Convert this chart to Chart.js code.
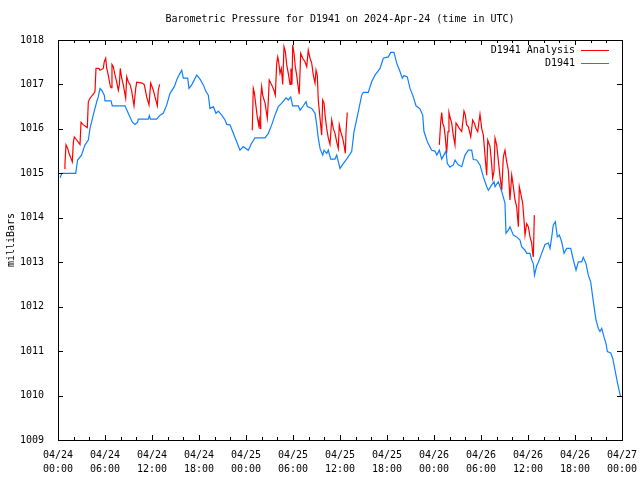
<!DOCTYPE html>
<html lang="en">
<head>
    <meta charset="UTF-8">
    <title>Barometric Pressure for D1941</title>
    <style>
        html, body { margin: 0; padding: 0; background: #fff; }
    </style>
</head>
<body>
    <div style="width: 640px; height: 480px;">
        <canvas id="myChart"></canvas>
    </div>

    <script src="https://cdn.jsdelivr.net/npm/chart.js"></script>
    <script>
        // hours since 2024-04-24 00:00 UTC
        const tickLabels = [
            ["04/24", "00:00"], ["04/24", "06:00"], ["04/24", "12:00"], ["04/24", "18:00"],
            ["04/25", "00:00"], ["04/25", "06:00"], ["04/25", "12:00"], ["04/25", "18:00"],
            ["04/26", "00:00"], ["04/26", "06:00"], ["04/26", "12:00"], ["04/26", "18:00"],
            ["04/27", "00:00"]
        ];

        // D1941 (observed)
        const obsHours = [
            0.26, 0.5, 2.26, 2.5, 3.0, 3.45, 3.87, 4.09, 4.5, 4.94, 5.14, 5.36, 5.58, 5.91, 6.0, 6.77, 6.93, 8.55, 8.97, 9.49,
            9.83, 10.17, 10.25, 11.53, 11.66, 11.8, 12.6, 13.02, 13.44, 13.88, 14.3, 14.85, 15.15, 15.45, 15.79, 16.0, 16.56, 16.72, 17.07, 17.71,
            18.13, 18.55, 18.89, 19.19, 19.4, 19.83, 20.17, 20.46, 20.9, 21.32, 21.54, 21.96, 22.38, 22.81, 23.23, 23.66, 24.29, 24.73, 25.15, 26.43,
            26.85, 27.28, 27.7, 28.12, 28.56, 29.11, 29.4, 29.71, 29.96, 30.68, 30.9, 31.32, 31.66, 31.83, 32.39, 32.81, 33.03, 33.23, 33.45, 33.79,
            33.96, 34.3, 34.51, 34.81, 35.36, 35.58, 36.0, 36.42, 36.85, 37.49, 37.79, 38.34, 38.77, 38.98, 39.61, 40.04, 40.47, 41.11, 41.53, 42.17,
            42.47, 42.89, 43.24, 43.66, 43.95, 44.17, 44.59, 44.94, 45.36, 45.7, 46.21, 46.56, 46.72, 47.15, 47.7, 48.13, 48.35, 48.68, 48.98, 49.53,
            49.7, 50.04, 50.47, 50.68, 51.1, 51.54, 51.96, 52.38, 52.81, 53.02, 53.45, 53.87, 54.3, 54.73, 54.94, 55.37, 55.66, 55.79, 56.21, 56.65,
            57.06, 57.19, 57.49, 57.7, 58.13, 58.55, 58.98, 59.19, 59.62, 59.83, 60.26, 60.47, 60.68, 60.83, 61.11, 61.32, 61.66, 62.17, 62.6, 62.81,
            63.03, 63.23, 63.49, 63.74, 64.0, 64.3, 64.6, 64.94, 65.45, 65.79, 66.13, 66.43, 66.86, 67.06, 67.4, 67.7, 68.0, 68.26, 68.43, 68.68,
            68.98, 69.19, 69.41, 69.7, 69.96, 70.13, 70.56, 70.81, 71.11, 71.4, 71.62, 71.83
        ];
        const obsValues = [
            1014.9, 1015.0, 1015.0, 1015.3, 1015.41, 1015.64, 1015.75, 1016.01, 1016.31, 1016.61, 1016.72, 1016.91, 1016.87, 1016.76, 1016.63, 1016.63, 1016.52, 1016.52, 1016.35, 1016.15,
            1016.1, 1016.15, 1016.22, 1016.22, 1016.3, 1016.22, 1016.22, 1016.31, 1016.35, 1016.54, 1016.8, 1016.95, 1017.1, 1017.21, 1017.32, 1017.14, 1017.14, 1016.91, 1016.99, 1017.21,
            1017.12, 1016.99, 1016.84, 1016.76, 1016.46, 1016.5, 1016.35, 1016.4, 1016.31, 1016.2, 1016.1, 1016.09, 1015.9, 1015.71, 1015.52, 1015.6, 1015.52, 1015.68, 1015.8, 1015.8,
            1015.9, 1016.09, 1016.31, 1016.5, 1016.58, 1016.7, 1016.65, 1016.72, 1016.52, 1016.52, 1016.42, 1016.52, 1016.61, 1016.5, 1016.46, 1016.35, 1016.09, 1015.79, 1015.56, 1015.41,
            1015.52, 1015.45, 1015.52, 1015.32, 1015.32, 1015.41, 1015.11, 1015.22, 1015.32, 1015.49, 1015.94, 1016.39, 1016.76, 1016.82, 1016.82, 1017.06, 1017.21, 1017.36, 1017.59, 1017.62,
            1017.72, 1017.72, 1017.48, 1017.29, 1017.14, 1017.2, 1017.17, 1016.91, 1016.72, 1016.52, 1016.45, 1016.31, 1015.94, 1015.71, 1015.52, 1015.5, 1015.41, 1015.52, 1015.32, 1015.5,
            1015.22, 1015.14, 1015.19, 1015.3, 1015.19, 1015.15, 1015.41, 1015.52, 1015.52, 1015.31, 1015.3, 1015.19, 1014.92, 1014.7, 1014.62, 1014.74, 1014.81, 1014.7, 1014.81, 1014.59,
            1014.33, 1013.65, 1013.72, 1013.8, 1013.61, 1013.57, 1013.5, 1013.35, 1013.27, 1013.2, 1013.2, 1013.05, 1012.97, 1012.71, 1012.92, 1013.0, 1013.16, 1013.4, 1013.43, 1013.31,
            1013.57, 1013.84, 1013.91, 1013.57, 1013.61, 1013.46, 1013.2, 1013.31, 1013.31, 1013.05, 1012.82, 1013.01, 1013.01, 1013.11, 1012.97, 1012.71, 1012.56, 1012.22, 1012.0, 1011.7,
            1011.51, 1011.44, 1011.51, 1011.32, 1011.17, 1010.99, 1010.96, 1010.84, 1010.57, 1010.31, 1010.12, 1009.97
        ];

        // D1941 Analysis (null = gap between analysis runs)
        const anaHours = [
            0.8, 0.89, 1.02, 1.24, 1.4, 1.66, 1.83, 1.95, 2.08, 2.39, 2.81, 2.94, 3.23, 3.74, 3.87, 4.09, 4.51, 4.72, 4.85, 5.23,
            5.36, 5.78, 5.91, 6.09, 6.22, 6.42, 6.64, 6.77, 6.89, 7.06, 7.28, 7.49, 7.7, 7.83, 7.95, 8.13, 8.34, 8.64, 8.77, 8.97,
            9.19, 9.41, 9.7, 9.92, 10.05, 10.76, 11.02, 11.32, 11.62, 11.83, 12.17, 12.38, 12.68, 12.8, 12.98,
            18.0,
            24.8, 24.93, 25.06, 25.28, 25.44, 25.62, 25.7, 25.79, 25.88, 26.0, 26.13, 26.43, 26.72, 26.85, 26.97, 27.28, 27.57, 27.74, 27.92, 28.05,
            28.17, 28.34, 28.51, 28.69, 28.85, 29.02, 29.2, 29.4, 29.62, 29.74, 29.87, 29.96, 30.13, 30.29, 30.47, 30.68, 30.8, 30.98, 31.24, 31.53,
            31.75, 31.95, 32.17, 32.39, 32.59, 32.81, 32.94, 33.1, 33.23, 33.45, 33.66, 33.79, 33.96, 34.12, 34.3, 34.51, 34.72, 34.94, 35.14, 35.36,
            35.58, 35.78, 35.91, 36.09, 36.34, 36.51, 36.68, 36.77, 36.93,
            42.0,
            48.68, 48.86, 48.98, 49.11, 49.28, 49.44, 49.62, 49.79, 49.91, 50.04, 50.26, 50.46, 50.68, 50.81, 50.97, 51.23, 51.54, 51.83, 52.0, 52.17,
            52.38, 52.69, 52.94, 53.15, 53.36, 53.58, 53.87, 54.09, 54.3, 54.51, 54.73, 54.86, 55.15, 55.37, 55.49, 55.66, 55.79, 56.0, 56.21, 56.43,
            56.65, 56.85, 57.06, 57.28, 57.49, 57.7, 57.92, 58.13, 58.34, 58.55, 58.77, 58.89, 59.07, 59.32, 59.49, 59.62, 59.83, 60.04, 60.26, 60.47,
            60.6, 60.68, 60.81
        ];
        const anaValues = [
            1015.11, 1015.22, 1015.64, 1015.56, 1015.45, 1015.34, 1015.26, 1015.68, 1015.82, 1015.75, 1015.65, 1016.15, 1016.09, 1016.03, 1016.61, 1016.69, 1016.78, 1016.84, 1017.36, 1017.36,
            1017.32, 1017.36, 1017.51, 1017.59, 1017.36, 1017.21, 1016.99, 1016.93, 1017.45, 1017.4, 1017.21, 1017.06, 1016.87, 1016.99, 1017.36, 1017.14, 1016.99, 1016.69, 1017.17, 1017.06,
            1017.0, 1016.85, 1016.52, 1016.91, 1017.05, 1017.03, 1016.99, 1016.72, 1016.54, 1017.03, 1016.87, 1016.72, 1016.52, 1016.87, 1017.0,
            null,
            1015.97, 1016.91, 1016.82, 1016.5, 1016.27, 1016.09, 1016.2, 1016.01, 1016.7, 1016.95, 1016.76, 1016.58, 1016.24, 1016.65, 1017.1, 1016.99, 1016.87, 1016.76, 1017.48, 1017.62,
            1017.51, 1017.25, 1017.36, 1017.0, 1017.85, 1017.74, 1017.44, 1017.25, 1017.0, 1017.36, 1017.0, 1017.89, 1017.7, 1017.4, 1017.21, 1016.91, 1016.78, 1017.7, 1017.59, 1017.51,
            1017.4, 1017.77, 1017.59, 1017.48, 1017.21, 1017.03, 1017.32, 1017.21, 1016.65, 1016.24, 1015.86, 1016.65, 1016.58, 1016.27, 1016.01, 1015.79, 1015.65, 1016.2, 1016.01, 1015.9,
            1015.71, 1015.56, 1016.09, 1015.94, 1015.79, 1015.64, 1015.45, 1015.94, 1016.37,
            null,
            1015.64, 1016.16, 1016.37, 1016.13, 1016.05, 1015.82, 1015.45, 1015.94, 1016.37, 1016.27, 1016.13, 1015.86, 1015.64, 1016.13, 1016.09, 1016.01, 1015.94, 1016.4, 1016.31, 1016.09,
            1016.05, 1015.82, 1016.2, 1016.13, 1016.01, 1015.94, 1016.33, 1016.01, 1015.86, 1015.41, 1014.96, 1015.75, 1015.6, 1015.19, 1014.89, 1015.04, 1015.79, 1015.64, 1015.3, 1014.92,
            1014.62, 1015.37, 1015.52, 1015.26, 1015.07, 1014.4, 1014.96, 1014.7, 1014.4, 1014.25, 1013.8, 1014.7, 1014.55, 1014.33, 1013.95, 1013.61, 1013.87, 1013.8, 1013.57, 1013.43,
            1013.2, 1013.12, 1014.06
        ];

        const FONT = "'DejaVu Sans Mono', 'Liberation Mono', monospace";

        function toPoints(xs, ys) {
            return xs.map((h, i) => ({ x: h, y: ys[i] }));
        }

        // gnuplot style frame: box + inward ticks on all four sides, legend inside top right
        const framePlugin = {
            id: "frame",
            afterDatasetsDraw(chart) {
                const { ctx, chartArea: a, scales } = chart;
                ctx.save();
                ctx.strokeStyle = "#000";
                ctx.lineWidth = 1;
                ctx.beginPath();
                for (let h = 0; h <= 72; h += 2) {
                    const px = Math.round(scales.x.getPixelForValue(h)) + 0.5;
                    const len = h % 6 === 0 ? 5 : 3;
                    ctx.moveTo(px, a.bottom);
                    ctx.lineTo(px, a.bottom - len);
                    ctx.moveTo(px, a.top);
                    ctx.lineTo(px, a.top + len);
                }
                for (let v = 1009; v <= 1018; v++) {
                    const py = Math.round(scales.y.getPixelForValue(v)) + 0.5;
                    ctx.moveTo(a.left, py);
                    ctx.lineTo(a.left + 5, py);
                    ctx.moveTo(a.right, py);
                    ctx.lineTo(a.right - 5, py);
                }
                ctx.stroke();
                ctx.strokeRect(Math.round(a.left) + 0.5, Math.round(a.top) + 0.5,
                    Math.round(a.right - a.left), Math.round(a.bottom - a.top));

                // legend
                ctx.font = "10px " + FONT;
                ctx.textAlign = "right";
                ctx.textBaseline = "middle";
                ctx.fillStyle = "#000";
                chart.data.datasets.forEach((ds, i) => {
                    const y = a.top + 10 + i * 13;
                    ctx.fillText(ds.label, a.right - 47, y);
                    ctx.strokeStyle = ds.borderColor;
                    ctx.beginPath();
                    ctx.moveTo(a.right - 41, y + 0.5);
                    ctx.lineTo(a.right - 13, y + 0.5);
                    ctx.stroke();
                });
                ctx.restore();
            }
        };

        const ctx = document.getElementById("myChart");

        new Chart(ctx, {
            type: "line",
            data: {
                datasets: [
                    {
                        label: "D1941 Analysis",
                        data: toPoints(anaHours, anaValues),
                        borderColor: "#ff0000",
                        borderWidth: 1.2,
                        pointRadius: 0,
                        spanGaps: false,
                        order: 2
                    },
                    {
                        label: "D1941",
                        data: toPoints(obsHours, obsValues),
                        borderColor: "#1080ff",
                        borderWidth: 1.2,
                        pointRadius: 0,
                        order: 1
                    }
                ]
            },
            options: {
                responsive: true,
                maintainAspectRatio: false,
                animation: false,
                layout: { padding: { top: 0, right: 18, bottom: 0, left: 0 } },
                plugins: {
                    legend: { display: false },
                    tooltip: { enabled: false },
                    title: {
                        display: true,
                        fullSize: false,
                        text: "Barometric Pressure for D1941 on 2024-Apr-24 (time in UTC)",
                        color: "#000",
                        font: { family: FONT, size: 10, weight: "normal", lineHeight: 1.2 },
                        padding: { top: 13, bottom: 15 }
                    }
                },
                scales: {
                    x: {
                        type: "linear",
                        min: 0,
                        max: 72,
                        grid: { display: false },
                        border: { display: false },
                        ticks: {
                            stepSize: 6,
                            maxRotation: 0,
                            autoSkip: false,
                            padding: 0,
                            color: "#000",
                            font: { family: FONT, size: 10, lineHeight: 1.4 },
                            callback: (v) => tickLabels[Math.round(v / 6)]
                        },
                        afterFit: (s) => { s.height = 40; s.paddingLeft = 0; s.paddingRight = 0; }
                    },
                    y: {
                        min: 1009,
                        max: 1018,
                        grid: { display: false },
                        border: { display: false },
                        ticks: {
                            stepSize: 1,
                            padding: 6,
                            color: "#000",
                            font: { family: FONT, size: 10 },
                            callback: (v) => String(v)
                        },
                        title: {
                            display: true,
                            text: "milliBars",
                            color: "#000",
                            font: { family: FONT, size: 10 },
                            padding: { top: 5, bottom: 0 }
                        },
                        afterFit: (s) => { s.width = 58; s.paddingTop = 0; s.paddingBottom = 0; }
                    }
                }
            },
            plugins: [framePlugin]
        });
    </script>
</body>
</html>
